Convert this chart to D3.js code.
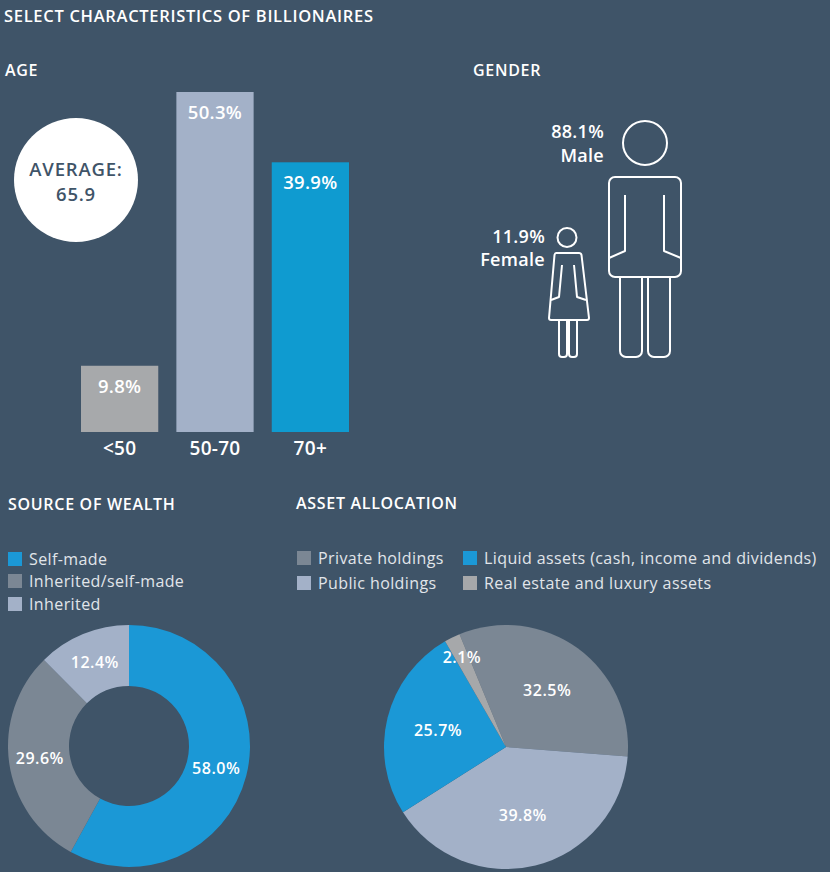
<!DOCTYPE html>
<html>
<head>
<meta charset="utf-8">
<script src="https://cdn.jsdelivr.net/npm/d3@7"></script>
<style>
    html, body { margin: 0; padding: 0; background: #3f5468; }
    svg { display: block; font-family: 'Open Sans', sans-serif; }
</style>
</head>
<body>
<svg id="chart" width="830" height="872"></svg>
<script>
const ageGroups = ['<50', '50-70', '70+'];
const ageShares = [9.8, 50.3, 39.9];
const ageAverage = 65.9;

const genders = ['Male', 'Female'];
const genderShares = [88.1, 11.9];

const wealthSources = ['Self-made', 'Inherited/self-made', 'Inherited'];
const wealthShares = [58.0, 29.6, 12.4];

const assetTypes = [
    'Private holdings',
    'Public holdings',
    'Liquid assets (cash, income and dividends)',
    'Real estate and luxury assets'
];
const assetShares = [32.5, 39.8, 25.7, 2.1];

const bg = '#3f5468';
const white = '#ffffff';
const legendText = '#e1e5ea';
const ageColors = ['#a7a9ab', '#a3b1c8', '#0f9bd0'];
const wealthColors = ['#1b98d6', '#7b8794', '#a3b1c8'];
const assetColors = ['#7b8794', '#a3b1c8', '#1b98d6', '#a6a8aa'];

const tau = 2 * Math.PI;
const svg = d3.select('#chart');

const heading = (x, y, label, size = 16) =>
    svg
        .append('text')
        .attr('x', x)
        .attr('y', y)
        .attr('fill', white)
        .attr('font-size', size)
        .attr('font-weight', 600)
        .attr('letter-spacing', 0.7)
        .text(label);

heading(4, 22, 'SELECT CHARACTERISTICS OF BILLIONAIRES', 16.5);
heading(5, 76, 'AGE');
heading(473, 76, 'GENDER');
heading(8, 510, 'SOURCE OF WEALTH');
heading(296, 509, 'ASSET ALLOCATION');

// age bars
const x = d3
    .scaleBand()
    .domain(ageGroups)
    .range([81, 349])
    .paddingInner(0.19)
    .paddingOuter(0);
const y = d3
    .scaleLinear()
    .domain([0, d3.max(ageShares)])
    .range([432, 92]);

const bars = svg
    .append('g')
    .selectAll('g')
    .data(ageGroups.map((g, i) => ({ group: g, value: ageShares[i] })))
    .join('g');

bars
    .append('rect')
    .attr('x', d => x(d.group))
    .attr('y', d => y(d.value))
    .attr('width', x.bandwidth())
    .attr('height', d => y(0) - y(d.value))
    .attr('fill', (d, i) => ageColors[i]);

bars
    .append('text')
    .attr('x', d => x(d.group) + x.bandwidth() / 2)
    .attr('y', d => y(d.value) + 27)
    .attr('text-anchor', 'middle')
    .attr('fill', white)
    .attr('font-size', 18.5)
    .attr('font-weight', 600)
    .attr('letter-spacing', 0.3)
    .text(d => `${d.value.toFixed(1)}%`);

const xAxis = svg
    .append('g')
    .attr('transform', `translate(0, ${y(0)})`)
    .call(d3.axisBottom(x).tickSize(0).tickPadding(10));
xAxis.select('.domain').remove();
xAxis
    .selectAll('text')
    .attr('fill', white)
    .attr('font-size', 19)
    .attr('font-weight', 600)
    .attr('letter-spacing', 0.3)
    .attr('font-family', "'Open Sans', sans-serif");

const avg = svg.append('g').attr('transform', 'translate(76, 180)');
avg.append('circle').attr('r', 62).attr('fill', white);
avg
    .selectAll('text')
    .data(['AVERAGE:', ageAverage.toFixed(1)])
    .join('text')
    .attr('y', (d, i) => -4 + i * 25)
    .attr('text-anchor', 'middle')
    .attr('fill', bg)
    .attr('font-size', 18.5)
    .attr('font-weight', 600)
    .attr('letter-spacing', 0.8)
    .text(d => d);

// gender figures
const figure = svg
    .append('g')
    .attr('fill', 'none')
    .attr('stroke', white)
    .attr('stroke-width', 2)
    .attr('stroke-linejoin', 'round');

const leg = (x0, x1, top, bottom, r) =>
    `M${x0},${top}V${bottom - r}A${r},${r} 0 0 0 ${x0 + r},${bottom}` +
    `H${x1 - r}A${r},${r} 0 0 0 ${x1},${bottom - r}V${top}`;

// male
figure.append('circle').attr('cx', 645).attr('cy', 143).attr('r', 22);
figure
    .append('rect')
    .attr('x', 609)
    .attr('y', 177)
    .attr('width', 72)
    .attr('height', 100)
    .attr('rx', 6);
figure.append('path').attr('d', 'M625,195V251L609,258M664,195V251L681,258');
figure.append('path').attr('d', leg(620, 642, 277, 357, 6));
figure.append('path').attr('d', leg(648, 670, 277, 357, 6));

// female
figure.append('circle').attr('cx', 567).attr('cy', 237.5).attr('r', 9.5);
figure
    .append('path')
    .attr('d', 'M556,253H579Q581,253 581.5,255L589,318Q589,320 587,320H551Q549,320 549,318L554.5,255Q555,253 556,253Z');
figure.append('path').attr('d', 'M562,265L559,297L551,300M574,265L577,297L586,300');
figure.append('path').attr('d', leg(559, 567, 320, 357, 3));
figure.append('path').attr('d', leg(569, 577, 320, 357, 3));

const genderLabels = [
    { x: 604, y: 138, dy: 24 },
    { x: 545, y: 243, dy: 22.5 }
];
genders.forEach((g, i) => {
    const t = svg
        .append('text')
        .attr('text-anchor', 'end')
        .attr('fill', white)
        .attr('font-size', 18)
        .attr('font-weight', 600)
        .attr('letter-spacing', 0.3);
    t.append('tspan')
        .attr('x', genderLabels[i].x)
        .attr('y', genderLabels[i].y)
        .text(`${genderShares[i].toFixed(1)}%`);
    t.append('tspan')
        .attr('x', genderLabels[i].x)
        .attr('dy', genderLabels[i].dy)
        .text(g);
});

// legends
const legend = (items, colors, positions) => {
    const g = svg
        .append('g')
        .selectAll('g')
        .data(items)
        .join('g')
        .attr('transform', (d, i) => `translate(${positions[i][0]}, ${positions[i][1]})`);
    g.append('rect')
        .attr('y', -7)
        .attr('width', 14)
        .attr('height', 14)
        .attr('fill', (d, i) => colors[i]);
    g.append('text')
        .attr('x', 21)
        .attr('dy', '0.36em')
        .attr('fill', legendText)
        .attr('font-size', 16)
        .attr('letter-spacing', 0.4)
        .text(d => d);
};

legend(wealthSources, wealthColors, [[8, 559], [8, 581], [8, 604]]);
legend(assetTypes, assetColors, [[297, 558], [297, 583], [463, 558], [463, 583]]);

// donut and pie
const pieChart = (values, colors, cx, cy, inner, outer, start, labelRadius) => {
    const arcs = d3
        .pie()
        .sort(null)
        .startAngle(start)
        .endAngle(start + tau)(values);
    const arc = d3.arc().innerRadius(inner).outerRadius(outer);
    const g = svg.append('g').attr('transform', `translate(${cx}, ${cy})`);
    g.selectAll('path')
        .data(arcs)
        .join('path')
        .attr('d', arc)
        .attr('fill', (d, i) => colors[i]);
    g.selectAll('text')
        .data(arcs)
        .join('text')
        .attr('transform', d => {
            const r = labelRadius(d);
            const a = (d.startAngle + d.endAngle) / 2;
            return `translate(${r * Math.sin(a)}, ${-r * Math.cos(a)})`;
        })
        .attr('dy', '0.35em')
        .attr('text-anchor', 'middle')
        .attr('fill', white)
        .attr('font-size', 16)
        .attr('font-weight', 600)
        .attr('letter-spacing', 0.5)
        .text(d => `${d.value.toFixed(1)}%`);
};

pieChart(wealthShares, wealthColors, 129, 746, 60, 121, 0, () => 90);
pieChart(assetShares, assetColors, 506, 747, 0, 122, (-22.4 / 360) * tau, d =>
    d.value < 5 ? 100 : 70
);
</script>
</body>
</html>
